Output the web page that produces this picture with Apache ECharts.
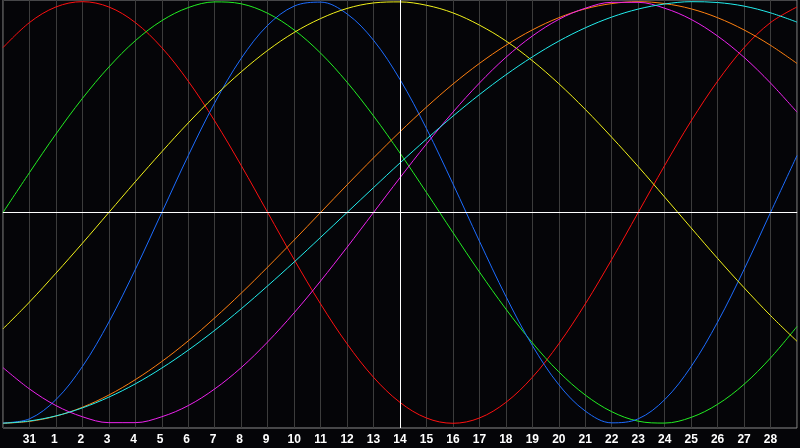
<!DOCTYPE html>
<html>
<head>
<meta charset="utf-8">
<script src="https://cdn.jsdelivr.net/npm/echarts@6/dist/echarts.min.js"></script>
<style>
html,body{margin:0;padding:0;background:#050508;}
#chart{width:800px;height:448px;}
</style>
</head>
<body>
<div id="chart"></div>
<script>
// Day labels for the ticks 1..29 (tick 0 = Jan 30 and tick 30 = Mar 1 are unlabeled edges)
const dayLabels = ['31','1','2','3','4','5','6','7','8','9','10','11','12','13','14','15','16','17','18','19','20','21','22','23','24','25','26','27','28'];
const todayIndex = 15; // "14"

// Values, one per day tick (0..30)
const red = [0.782,0.901,0.975,1.000,0.975,0.901,0.782,0.623,0.434,0.223,0.000,-0.223,-0.434,-0.623,-0.782,-0.901,-0.975,-1.000,-0.975,-0.901,-0.782,-0.623,-0.434,-0.223,0.000,0.223,0.434,0.623,0.782,0.901,0.975];
const green = [0.000,0.189,0.372,0.541,0.690,0.815,0.910,0.972,0.999,0.990,0.945,0.866,0.756,0.618,0.458,0.282,0.095,-0.095,-0.282,-0.458,-0.618,-0.756,-0.866,-0.945,-0.990,-0.999,-0.972,-0.910,-0.815,-0.690,-0.541];
const blue = [-0.998,-0.979,-0.888,-0.731,-0.520,-0.270,0.000,0.270,0.520,0.731,0.888,0.979,0.998,0.942,0.817,0.631,0.398,0.136,-0.136,-0.398,-0.631,-0.817,-0.942,-0.998,-0.979,-0.888,-0.731,-0.520,-0.270,0.000,0.270];
const yellow = [-0.552,-0.425,-0.288,-0.146,0.000,0.146,0.288,0.425,0.552,0.667,0.769,0.854,0.920,0.968,0.994,0.999,0.983,0.947,0.889,0.814,0.720,0.611,0.489,0.357,0.218,0.073,-0.073,-0.218,-0.357,-0.489,-0.611];
const orange = [-1.000,-0.991,-0.966,-0.924,-0.866,-0.793,-0.707,-0.609,-0.500,-0.383,-0.259,-0.131,0.000,0.131,0.259,0.383,0.500,0.609,0.707,0.793,0.866,0.924,0.966,0.991,1.000,0.991,0.966,0.924,0.866,0.793,0.707];
const magenta = [-0.736,-0.837,-0.916,-0.969,-0.997,-0.997,-0.969,-0.916,-0.837,-0.736,-0.614,-0.476,-0.325,-0.165,0.000,0.165,0.325,0.476,0.614,0.736,0.837,0.916,0.969,0.997,0.997,0.969,0.916,0.837,0.736,0.614,0.476];
const cyan = [-1.000,-0.989,-0.965,-0.927,-0.876,-0.813,-0.738,-0.653,-0.559,-0.457,-0.348,-0.235,-0.118,0.000,0.118,0.235,0.348,0.457,0.559,0.653,0.738,0.813,0.876,0.927,0.965,0.989,1.000,0.996,0.979,0.947,0.903];

const curves = [
  {name:'red', values: red, color:'#ff1010'},
  {name:'green', values: green, color:'#22ee22'},
  {name:'blue', values: blue, color:'#1c6cff'},
  {name:'yellow', values: yellow, color:'#f2f21a'},
  {name:'orange', values: orange, color:'#ff8010'},
  {name:'magenta', values: magenta, color:'#ee22ee'},
  {name:'cyan', values: cyan, color:'#22eeee'}
];

const chart = echarts.init(document.getElementById('chart'), null, {renderer:'canvas'});

const series = [{
  type:'line', name:'ref', data:[], z:1, silent:true,
  markLine:{
    silent:true, symbol:'none', animation:false,
    label:{show:false},
    lineStyle:{color:'#ffffff', type:'solid', width:1},
    data:[{yAxis:0},{xAxis:todayIndex}]
  }
}].concat(curves.map(c => ({
  type:'line', name:c.name, z:2,
  data: c.values.map((v,i) => [i, v]),
  smooth: 0.35, showSymbol:false, symbol:'none',
  lineStyle:{color:c.color, width:1},
  itemStyle:{color:c.color},
  animation:false
})));

chart.setOption({
  backgroundColor:'#050508',
  animation:false,
  grid:{left:0, right:0, top:0, bottom:20, show:true, borderColor:'#8a8a8a', borderWidth:1, backgroundColor:'#050508'},
  xAxis:{
    type:'value', min:0, max:30, interval:1,
    axisLine:{show:true, lineStyle:{color:'#9a9a9a', width:1}},
    axisTick:{show:false},
    splitLine:{show:true, lineStyle:{color:'#3c3c3c', width:1}},
    axisLabel:{
      show:true, color:'#ffffff', fontFamily:'Liberation Sans', fontWeight:'bold', fontSize:12, margin:6,
      formatter: v => {
        const s = dayLabels[v-1];
        if (v < 1 || v > 29 || s === undefined) return '';
        return s.length === 1 ? s + ' ' : s;
      }
    }
  },
  yAxis:{
    type:'value', min:-1.0224, max:1.008,
    axisLine:{show:false}, axisTick:{show:false}, axisLabel:{show:false}, splitLine:{show:false}
  },
  series: series
});
</script>
</body>
</html>
